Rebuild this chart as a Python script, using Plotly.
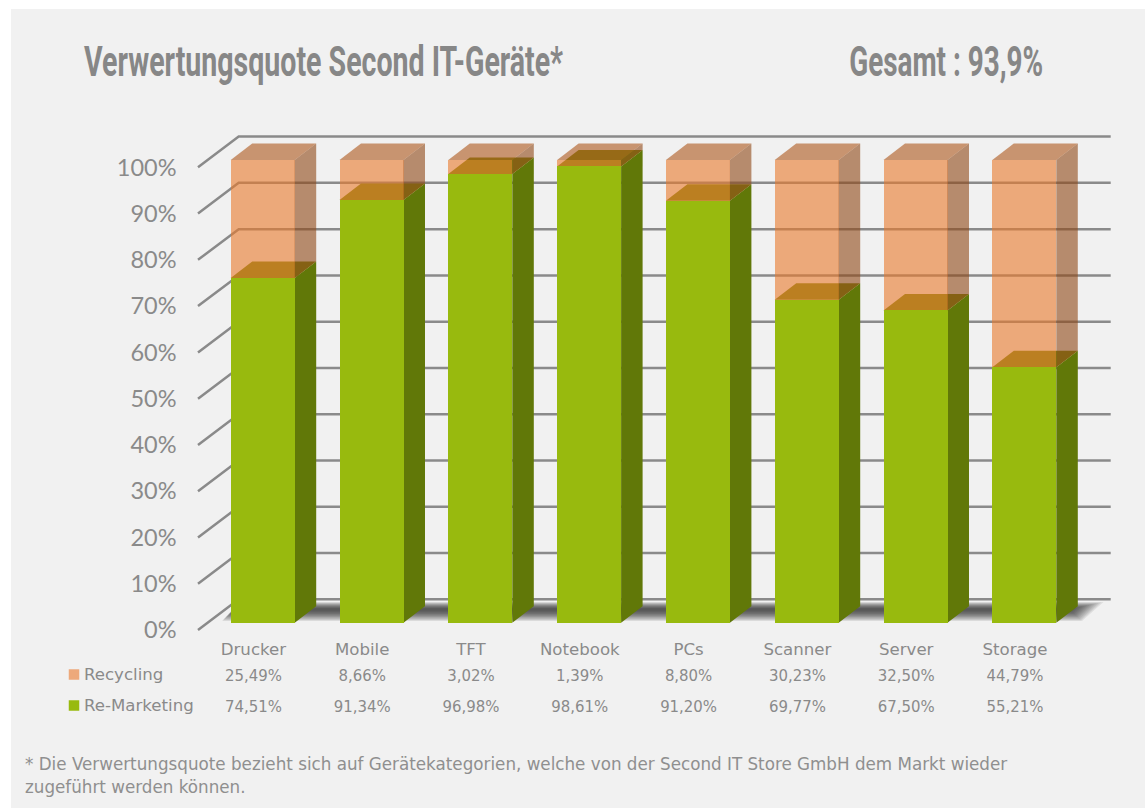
import plotly.graph_objects as go

categories = ["Drucker", "Mobile", "TFT", "Notebook", "PCs", "Scanner", "Server", "Storage"]
re_marketing = [74.51, 91.34, 96.98, 98.61, 91.20, 69.77, 67.50, 55.21]
recycling = [25.49, 8.66, 3.02, 1.39, 8.80, 30.23, 32.50, 44.79]
recycling_labels = ["25,49%", "8,66%", "3,02%", "1,39%", "8,80%", "30,23%", "32,50%", "44,79%"]
re_marketing_labels = ["74,51%", "91,34%", "96,98%", "98,61%", "91,20%", "69,77%", "67,50%", "55,21%"]
y_levels = [0, 10, 20, 30, 40, 50, 60, 70, 80, 90, 100]
y_labels = ["0%", "10%", "20%", "30%", "40%", "50%", "60%", "70%", "80%", "90%", "100%"]

W, H = 1146, 809
# pixel calibration of the plot
PX_PER_CAT = 108.8
X0_PX = 262.7
PX_PER_PCT = 4.627
Y0_PX = 622.7
L, R, T, B = 11, 1145, 9, 808


def cx(px):
    return (px - X0_PX) / PX_PER_CAT


def py(px):
    return (Y0_PX - px) / PX_PER_PCT


BAR_W = 64 / PX_PER_CAT
DX = 21.5 / PX_PER_CAT
DY = 16.5 / PX_PER_PCT
GRID_FRONT_Y = -7.3 / PX_PER_PCT
GRID_BACK_Y = 23.4 / PX_PER_PCT
GRID_L, GRID_M, GRID_R = cx(198), cx(238.7), cx(1110.7)
LABEL_SHIFT = -9.3 / PX_PER_CAT
n = len(categories)
xs = list(range(n))

GREY = "#8a8a8a"
GRID = "#8a8a8a"
PEACH_FRONT = "rgba(234,121,44,0.6)"
PEACH_TOP = "rgba(174,86,26,0.6)"
PEACH_SIDE = "rgba(144,71,22,0.6)"
GREEN_FRONT = "#98BA0E"
GREEN_TOP = "#778813"
GREEN_SIDE = "#617808"
TEXT_FONT = "DejaVu Sans"
NUM_FONT = "DejaVu Sans Condensed"
TXT_SIZE = 16.6

fig = go.Figure()


def poly(xv, yv, color, yaxis="y"):
    fig.add_trace(go.Scatter(x=xv, y=yv, mode="lines", fill="toself", fillcolor=color,
                             line=dict(width=0), hoverinfo="skip", showlegend=False, yaxis=yaxis))


# gridlines
for v in y_levels:
    fig.add_trace(go.Scatter(x=[GRID_L, GRID_M, GRID_R], y=[v + GRID_FRONT_Y, v + GRID_BACK_Y, v + GRID_BACK_Y],
                             mode="lines", line=dict(color=GRID, width=2.5), hoverinfo="skip", showlegend=False))

# soft floor shadow: a band across the floor, layered to look blurred
SHADOW_STEPS = 14
for k in range(SHADOW_STEPS):
    spread = 1 - k / SHADOW_STEPS
    top_px = 602 + 7 * (1 - spread)
    bot_px = 621 - 11 * (1 - spread)
    xl_b = cx(222 + 10 * (1 - spread))
    xr_b = cx(1082 - 12 * (1 - spread))
    bot, top = py(bot_px), py(top_px)
    slant = (bot_px - top_px) / 19 * DX
    poly([xl_b, xr_b, xr_b + slant, xl_b + slant, xl_b], [bot, bot, top, top, bot], "rgba(40,40,40,0.085)")

# green side and top faces (lie behind the translucent recycling faces)
for i in xs:
    xr = i + BAR_W / 2
    xl = i - BAR_W / 2
    v = re_marketing[i]
    poly([xr, xr + DX, xr + DX, xr, xr], [0, DY, v + DY, v, 0], GREEN_SIDE)
    poly([xl, xr, xr + DX, xl + DX, xl], [v, v, v + DY, v + DY, v], GREEN_TOP)

# front faces
fig.add_trace(go.Bar(x=xs, y=re_marketing, width=BAR_W, marker=dict(color=GREEN_FRONT, line=dict(width=0)),
                     name="Re-Marketing", showlegend=False, yaxis="y3"))
fig.add_trace(go.Bar(x=xs, y=recycling, width=BAR_W, marker=dict(color=PEACH_FRONT, line=dict(width=0)),
                     name="Recycling", showlegend=False, yaxis="y3"))

# recycling side and top faces
for i in xs:
    xr = i + BAR_W / 2
    xl = i - BAR_W / 2
    v = re_marketing[i]
    t = v + recycling[i]
    poly([xr, xr + DX, xr + DX, xr, xr], [v, v + DY, t + DY, t, v], PEACH_SIDE, "y3")
    poly([xl, xr, xr + DX, xl + DX, xl], [t, t, t + DY, t + DY, t], PEACH_TOP, "y3")

# data table rows
for row_y, labels in [(677, recycling_labels), (708, re_marketing_labels)]:
    fig.add_trace(go.Scatter(x=[i + LABEL_SHIFT for i in xs], y=[py(row_y)] * n, text=labels, mode="text", yaxis="y3",
                             textfont=dict(family=NUM_FONT, size=TXT_SIZE, color=GREY),
                             hoverinfo="skip", showlegend=False))

# row legend
for row_y, label, col in [(674.5, "Recycling", "#EDA97B"), (705.5, "Re-Marketing", GREEN_FRONT)]:
    fig.add_trace(go.Scatter(x=[cx(74)], y=[py(row_y)], mode="markers", yaxis="y3",
                             marker=dict(symbol="square", size=10.5, color=col, line=dict(width=0)),
                             hoverinfo="skip", showlegend=False))
    fig.add_annotation(x=cx(82), y=py(row_y), text=label, showarrow=False, xanchor="left", yanchor="middle",
                       font=dict(family=TEXT_FONT, size=TXT_SIZE, color=GREY))

TITLE_FONT = dict(family="Roboto", size=42, color="#878787", weight=700)
fig.add_annotation(x=323.5 / W, y=1 - 62 / H, xref="paper", yref="paper", text="Verwertungsquote Second IT-Geräte*",
                   showarrow=False, xanchor="center", yanchor="middle", font=TITLE_FONT)
fig.add_annotation(x=946 / W, y=1 - 62 / H, xref="paper", yref="paper", text="Gesamt : 93,9%",
                   showarrow=False, xanchor="center", yanchor="middle", font=TITLE_FONT)
for line_y, line in [(764, "* Die Verwertungsquote bezieht sich auf Gerätekategorien, welche von der Second IT Store GmbH dem Markt wieder"),
                     (787, "zugeführt werden können.")]:
    fig.add_annotation(x=23 / W, y=1 - line_y / H, xref="paper", yref="paper", text=line,
                       showarrow=False, xanchor="left", yanchor="middle",
                       font=dict(family=TEXT_FONT, size=16.75, color="#8f8f8f"))

xr_ = [cx(L), cx(R)]
yr_ = [py(B), py(T)]
fig.update_layout(
    width=W, height=H, margin=dict(l=0, r=0, t=0, b=0), paper_bgcolor="white", plot_bgcolor="#F1F1F1",
    barmode="stack", bargap=0, showlegend=False,
    xaxis=dict(domain=[L / W, R / W], range=xr_, tickmode="array", tickvals=[i + LABEL_SHIFT for i in xs],
               ticktext=categories, anchor="free", position=1 - 637 / H, showgrid=False, zeroline=False,
               showline=False, ticks="", tickfont=dict(family=TEXT_FONT, size=TXT_SIZE, color=GREY)),
    yaxis=dict(domain=[1 - B / H, 1 - T / H], range=yr_, tickmode="array",
               tickvals=[v + GRID_FRONT_Y for v in y_levels], ticktext=y_labels,
               anchor="free", position=176.5 / W, showgrid=False, zeroline=False, showline=False, ticks="",
               tickfont=dict(family="Lato", size=23.5, color=GREY)),
    yaxis3=dict(overlaying="y", range=yr_, visible=False),
)
post = """
document.body.style.margin='0';
document.documentElement.style.overflow='hidden';
document.querySelectorAll('.annotation-text').forEach(function(t){
  var s=t.textContent, w=0;
  if(s.indexOf('Verwertungsquote Second')===0){w=479;}
  if(s.indexOf('Gesamt')===0){w=194;}
  if(w){t.setAttribute('textLength',w);t.setAttribute('lengthAdjust','spacingAndGlyphs');}
});
"""
fig.write_html("out.html", post_script=post, config={"displayModeBar": False})
